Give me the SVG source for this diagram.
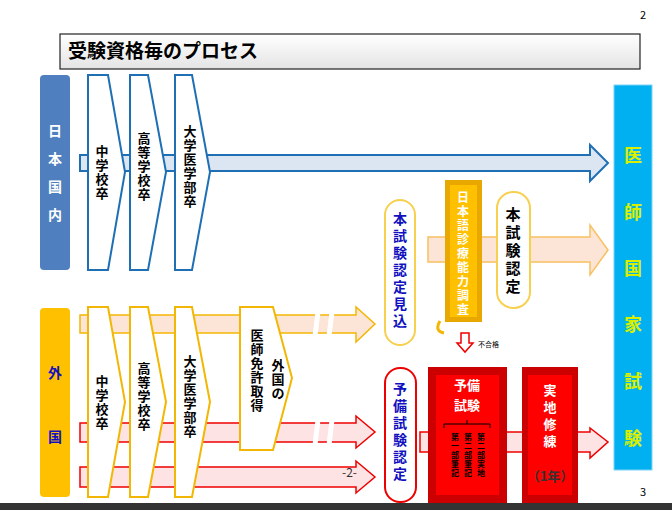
<svg xmlns="http://www.w3.org/2000/svg" width="672" height="510" viewBox="0 0 672 510">
<defs>
<style>
text{font-family:"Noto Sans CJK JP","Liberation Sans",sans-serif;font-weight:bold}
.bch{fill:#fff;stroke:#1F6FB5;stroke-width:2}
.och{fill:#fff;stroke:#F2B705;stroke-width:2}
</style>
<linearGradient id="tg" x1="0" y1="0" x2="0" y2="1"><stop offset="0" stop-color="#fff"/><stop offset="1" stop-color="#e4e4e4"/></linearGradient>
</defs>
<rect width="672" height="510" fill="#fff"/>
<rect x="0" y="503" width="672" height="7" fill="#333"/>
<text x="640" y="19" font-size="11" style="font-weight:normal">2</text>
<text x="640" y="496" font-size="11" style="font-weight:normal">3</text>
<g id="title"><rect x="60" y="34" width="580" height="35" fill="url(#tg)" stroke="#222" stroke-width="1.2"/>
<text x="68" y="58" font-size="19">受験資格毎のプロセス</text></g>

<g id="connectors">
<polygon points="80,155 590,155 590,145 608,163 590,181 590,171 80,171" fill="#DCE6F2" stroke="#1F6FB5" stroke-width="2"/>
<polygon points="80,315 356,315 356,307 375,324 356,342 356,333 80,333" fill="#FCE4D6" stroke="#F2B705" stroke-width="1.5"/>
<polygon points="80,423 356,423 356,416 375,432 356,448 356,442 80,442" fill="#FDE3E3" stroke="#E00" stroke-width="1.5"/>
<polygon points="80,467 356,467 356,461 375,477 356,493 356,487 80,487" fill="#FDE3E3" stroke="#E00" stroke-width="1.5"/>
<g stroke="#fff" stroke-width="5"><line x1="318" y1="312" x2="315" y2="336"/><line x1="332" y1="312" x2="329" y2="336"/><line x1="318" y1="420" x2="315" y2="445"/><line x1="332" y1="420" x2="329" y2="445"/></g>
<polygon points="428,237 590,237 590,225 608,250 590,275 590,262 428,262" fill="#FCE4D6" stroke="#F8C060" stroke-width="1.5"/>
<polygon points="420,432 590,432 590,428 608,442 590,458 590,452 420,452" fill="#FDE3E3" stroke="#E00" stroke-width="1.5"/>
<path d="M440,321 q-6,10 4,12" fill="none" stroke="#F2B705" stroke-width="3"/>
<polygon points="461,333 469,333 469,343 473,343 465,352 457,343 461,343" fill="#fff" stroke="#E00" stroke-width="1.5"/>
</g>

<g id="domestic"><rect x="40" y="75" width="30" height="195" rx="4" fill="#4F7FBE"/>
<text x="55" y="136" font-size="14" fill="#fff" text-anchor="middle">日</text>
<text x="55" y="164" font-size="14" fill="#fff" text-anchor="middle">本</text>
<text x="55" y="192" font-size="14" fill="#fff" text-anchor="middle">国</text>
<text x="55" y="220" font-size="14" fill="#fff" text-anchor="middle">内</text></g>
<g font-size="13" text-anchor="middle">
<g id="d1"><polygon class="bch" points="88,75 108,75 125,172 108,270 88,270"/><text x="102" y="143"><tspan x="102" dy="13">中</tspan><tspan x="102" dy="14">学</tspan><tspan x="102" dy="14">校</tspan><tspan x="102" dy="14">卒</tspan></text></g>
<g id="d2"><polygon class="bch" points="130,75 148,75 166,172 148,270 130,270"/><text x="144" y="130"><tspan x="144" dy="13">高</tspan><tspan x="144" dy="14">等</tspan><tspan x="144" dy="14">学</tspan><tspan x="144" dy="14">校</tspan><tspan x="144" dy="14">卒</tspan></text></g>
<g id="d3"><polygon class="bch" points="175,75 192,75 210,172 192,270 175,270"/><text x="190" y="123"><tspan x="190" dy="13">大</tspan><tspan x="190" dy="14">学</tspan><tspan x="190" dy="14">医</tspan><tspan x="190" dy="14">学</tspan><tspan x="190" dy="14">部</tspan><tspan x="190" dy="14">卒</tspan></text></g>
</g>

<g id="foreign"><rect x="40" y="308" width="30" height="189" rx="4" fill="#FFC000"/>
<text x="55" y="378" font-size="14" fill="#1010C0" text-anchor="middle">外</text>
<text x="55" y="442" font-size="14" fill="#1010C0" text-anchor="middle">国</text></g>
<g font-size="13" text-anchor="middle">
<g id="f1"><polygon class="och" points="88,307 108,307 125,402 108,497 88,497"/><text x="102" y="373"><tspan x="102" dy="13">中</tspan><tspan x="102" dy="14">学</tspan><tspan x="102" dy="14">校</tspan><tspan x="102" dy="14">卒</tspan></text></g>
<g id="f2"><polygon class="och" points="130,307 148,307 166,402 148,497 130,497"/><text x="144" y="360"><tspan x="144" dy="13">高</tspan><tspan x="144" dy="14">等</tspan><tspan x="144" dy="14">学</tspan><tspan x="144" dy="14">校</tspan><tspan x="144" dy="14">卒</tspan></text></g>
<g id="f3"><polygon class="och" points="175,307 192,307 210,402 192,497 175,497"/><text x="190" y="353"><tspan x="190" dy="13">大</tspan><tspan x="190" dy="14">学</tspan><tspan x="190" dy="14">医</tspan><tspan x="190" dy="14">学</tspan><tspan x="190" dy="14">部</tspan><tspan x="190" dy="14">卒</tspan></text></g>
<g id="f4"><polygon class="och" points="240,307 273,307 292,378 273,450 240,450"/>
<text x="278" y="357"><tspan x="278" dy="13">外</tspan><tspan x="278" dy="14">国</tspan><tspan x="278" dy="14">の</tspan></text>
<text x="257" y="327"><tspan x="257" dy="13">医</tspan><tspan x="257" dy="14">師</tspan><tspan x="257" dy="14">免</tspan><tspan x="257" dy="14">許</tspan><tspan x="257" dy="14">取</tspan><tspan x="257" dy="14">得</tspan></text></g>
</g>

<g id="mikomi" font-size="14" fill="#1010C0" text-anchor="middle"><rect x="385" y="200" width="30" height="145" rx="15" fill="#fff" stroke="#F8D050" stroke-width="2"/><text x="400" y="210"><tspan x="400" dy="14">本</tspan><tspan x="400" dy="17">試</tspan><tspan x="400" dy="17">験</tspan><tspan x="400" dy="17">認</tspan><tspan x="400" dy="17">定</tspan><tspan x="400" dy="17">見</tspan><tspan x="400" dy="17">込</tspan></text></g>
<g id="nihongo" font-size="12" fill="#fff" text-anchor="middle"><rect x="445" y="180" width="37" height="142" fill="#E8A800"/><rect x="450" y="185" width="27" height="132" fill="#FFC000"/><text x="463" y="190"><tspan x="463" dy="12">日</tspan><tspan x="463" dy="14">本</tspan><tspan x="463" dy="14">語</tspan><tspan x="463" dy="14">診</tspan><tspan x="463" dy="14">療</tspan><tspan x="463" dy="14">能</tspan><tspan x="463" dy="14">力</tspan><tspan x="463" dy="14">調</tspan><tspan x="463" dy="14">査</tspan></text></g>
<g id="honshiken" font-size="15" fill="#000" text-anchor="middle"><rect x="497" y="192" width="33" height="116" rx="16" fill="#fff" stroke="#F8D050" stroke-width="2"/><text x="513" y="205"><tspan x="513" dy="15">本</tspan><tspan x="513" dy="18">試</tspan><tspan x="513" dy="18">験</tspan><tspan x="513" dy="18">認</tspan><tspan x="513" dy="18">定</tspan></text></g>
<text x="478" y="347" font-size="7" style="font-weight:normal">不合格</text>

<g id="kokushi"><rect x="614" y="85" width="38" height="385" fill="#00B0F0" stroke="#7FD4F5" stroke-width="1"/>
<g font-size="18" fill="#D8F000" text-anchor="middle"><text x="633" y="162">医</text><text x="633" y="219">師</text><text x="633" y="275">国</text><text x="633" y="331">家</text><text x="633" y="388">試</text><text x="633" y="445">験</text></g></g>

<g id="yobininntei" font-size="14" fill="#1010C0" text-anchor="middle"><rect x="385" y="368" width="31" height="134" rx="15" fill="#fff" stroke="#E00" stroke-width="2"/><text x="400" y="380"><tspan x="400" dy="14">予</tspan><tspan x="400" dy="17">備</tspan><tspan x="400" dy="17">試</tspan><tspan x="400" dy="17">験</tspan><tspan x="400" dy="17">認</tspan><tspan x="400" dy="17">定</tspan></text></g>
<g id="yobi"><rect x="428" y="367" width="79" height="136" fill="#C00"/><rect x="436" y="375" width="63" height="120" fill="#F00"/>
<text x="467" y="390" font-size="13" fill="#fff" text-anchor="middle">予備</text><text x="467" y="410" font-size="13" fill="#fff" text-anchor="middle">試験</text>
<path d="M444,428 v-4 h46 v4 M467,424 v-4" fill="none" stroke="#000" stroke-width="1"/>
<g font-size="8" fill="#000" text-anchor="middle">
<text x="455" y="432"><tspan x="455" dy="8">第</tspan><tspan x="455" dy="9">一</tspan><tspan x="455" dy="9">部</tspan><tspan x="455" dy="9">筆</tspan><tspan x="455" dy="9">記</tspan></text>
<text x="468" y="432"><tspan x="468" dy="8">第</tspan><tspan x="468" dy="9">二</tspan><tspan x="468" dy="9">部</tspan><tspan x="468" dy="9">筆</tspan><tspan x="468" dy="9">記</tspan></text>
<text x="481" y="432"><tspan x="481" dy="8">第</tspan><tspan x="481" dy="9">二</tspan><tspan x="481" dy="9">部</tspan><tspan x="481" dy="9">実</tspan><tspan x="481" dy="9">地</tspan></text></g></g>
<g id="jitchi" font-size="13" fill="#fff" text-anchor="middle"><rect x="522" y="367" width="56" height="136" fill="#C00"/><rect x="528" y="375" width="44" height="120" fill="#F00"/>
<text x="550" y="382"><tspan x="550" dy="13">実</tspan><tspan x="550" dy="17">地</tspan><tspan x="550" dy="17">修</tspan><tspan x="550" dy="17">練</tspan></text>
<text x="550" y="481" fill="#333">（1年）</text></g>
<text x="342" y="477" font-size="12" style="font-weight:normal" fill="#333">-2-</text>
</svg>
